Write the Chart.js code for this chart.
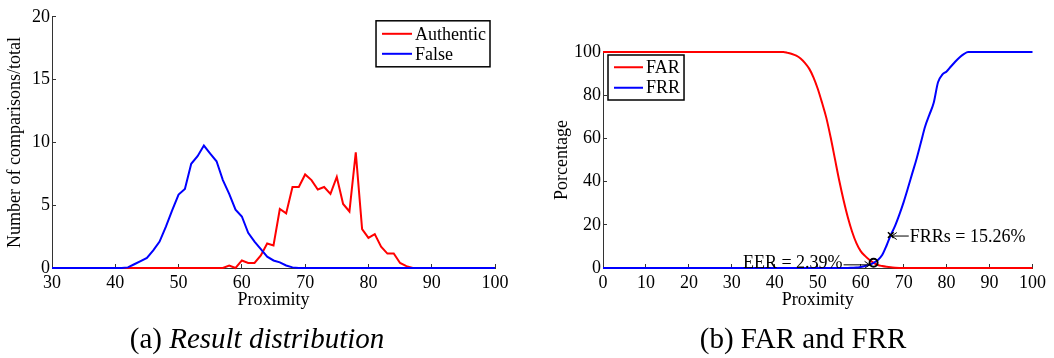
<!DOCTYPE html>
<html>
<head>
<meta charset="utf-8">
<script src="https://cdn.jsdelivr.net/npm/chart.js@4.4.1/dist/chart.umd.min.js"></script>
<style>
  body {
    margin: 0;
    width: 1054px;
    height: 358px;
    background: #fff;
    position: relative;
    overflow: hidden;
    font-family: "Liberation Serif", "DejaVu Serif", serif;
  }
  canvas.plot { position: absolute; left: 0; top: 0; }
  .caption {
    position: absolute;
    top: 321px;
    font-size: 29px;
    line-height: 34px;
    color: #000;
    white-space: nowrap;
    transform: translateX(-50%);
  }
</style>
</head>
<body>
<canvas id="distChart" class="plot" width="1054" height="358"></canvas>
<canvas id="rateChart" class="plot" width="1054" height="358"></canvas>
<div class="caption" style="left:257px">(a) <i>Result distribution</i></div>
<div class="caption" style="left:803px">(b) FAR and FRR</div>

<script>
// ---- (a) score distribution ----
const distProximity = [
  30, 31, 32, 33, 34, 35, 36, 37, 38, 39,
  40, 41, 42, 43, 44, 45, 46, 47, 48, 49,
  50, 51, 52, 53, 54, 55, 56, 57, 58, 59,
  60, 61, 62, 63, 64, 65, 66, 67, 68, 69,
  70, 71, 72, 73, 74, 75, 76, 77, 78, 79,
  80, 81, 82, 83, 84, 85, 86, 87, 88, 89,
  90, 91, 92, 93, 94, 95, 96, 97, 98, 99,
  100,
];
const authentic = [
  0, 0, 0, 0, 0, 0, 0, 0, 0, 0,
  0, 0, 0, 0, 0, 0, 0, 0, 0, 0,
  0, 0, 0, 0, 0, 0, 0, 0, 0.2, 0,
  0.6, 0.4, 0.4, 1.0, 1.95, 1.8, 4.7, 4.35, 6.45, 6.45,
  7.45, 7.0, 6.25, 6.45, 5.9, 7.25, 5.1, 4.5, 9.2, 3.1,
  2.4, 2.7, 1.7, 1.15, 1.15, 0.4, 0.15, 0, 0, 0,
  0, 0, 0, 0, 0, 0, 0, 0, 0, 0,
  0,
];
const impostor = [
  0, 0, 0, 0, 0, 0, 0, 0, 0, 0,
  0, 0, 0.05, 0.3, 0.55, 0.8, 1.4, 2.1, 3.3, 4.6,
  5.85, 6.3, 8.3, 8.9, 9.75, 9.1, 8.5, 7.0, 5.9, 4.65,
  4.1, 2.8, 2.1, 1.5, 0.9, 0.6, 0.45, 0.2, 0.05, 0,
  0, 0, 0, 0, 0, 0, 0, 0, 0, 0,
  0, 0, 0, 0, 0, 0, 0, 0, 0, 0,
  0, 0, 0, 0, 0, 0, 0, 0, 0, 0,
  0,
];
const distXTicks = [30, 40, 50, 60, 70, 80, 90, 100];
const distYTicks = [0, 5, 10, 15, 20];

// ---- (b) error rates ----
const rateProximity = [
  0, 1, 2, 3, 4, 5, 6, 7, 8, 9,
  10, 11, 12, 13, 14, 15, 16, 17, 18, 19,
  20, 21, 22, 23, 24, 25, 26, 27, 28, 29,
  30, 31, 32, 33, 34, 35, 36, 37, 38, 39,
  40, 41, 42, 43, 44, 45, 46, 47, 48, 49,
  50, 51, 52, 53, 54, 55, 56, 57, 58, 59,
  60, 61, 62, 63, 64, 65, 66, 67, 68, 69,
  70, 71, 72, 73, 74, 75, 76, 77, 78, 79,
  80, 81, 82, 83, 84, 85, 86, 87, 88, 89,
  90, 91, 92, 93, 94, 95, 96, 97, 98, 99,
  100,
];
const far = [
  100, 100, 100, 100, 100, 100, 100, 100, 100, 100,
  100, 100, 100, 100, 100, 100, 100, 100, 100, 100,
  100, 100, 100, 100, 100, 100, 100, 100, 100, 100,
  100, 100, 100, 100, 100, 100, 100, 100, 100, 100,
  100, 100, 100, 99.6, 99.1, 98.3, 97, 95, 92.3, 88.3,
  83, 76.5, 69.5, 60.5, 50.5, 40.5, 31.5, 23.5, 16.8, 11.5,
  7.8, 5.6, 3.8, 2.39, 1.4, 0.9, 0.55, 0.3, 0.15, 0.05,
  0, 0, 0, 0, 0, 0, 0, 0, 0, 0,
  0, 0, 0, 0, 0, 0, 0, 0, 0, 0,
  0, 0, 0, 0, 0, 0, 0, 0, 0, 0,
  0,
];
const frr = [
  0, 0, 0, 0, 0, 0, 0, 0, 0, 0,
  0, 0, 0, 0, 0, 0, 0, 0, 0, 0,
  0, 0, 0, 0, 0, 0, 0, 0, 0, 0,
  0, 0, 0, 0, 0, 0, 0, 0, 0, 0,
  0, 0, 0, 0, 0, 0, 0, 0, 0, 0,
  0, 0, 0, 0, 0, 0, 0, 0, 0.1, 0.2,
  0.5, 0.9, 1.5, 2.39, 3.7, 6.0, 10.3, 15.26, 19.5, 24.7,
  30.5, 37, 43.8, 50.5, 58, 65.5, 71, 76.5, 86, 89.5,
  91, 93.3, 95.5, 97.5, 99, 100, 100, 100, 100, 100,
  100, 100, 100, 100, 100, 100, 100, 100, 100, 100,
  100,
];
const rateXTicks = [0, 10, 20, 30, 40, 50, 60, 70, 80, 90, 100];
const rateYTicks = [0, 20, 40, 60, 80, 100];

// marked points: equal error rate and FRR at the chosen threshold
const eerPoint = [63, 2.39];
const frrsPoint = [67, 15.26];

const FONT = "Liberation Serif";
const FONT_SIZE = 18;
const toXY = (xs, ys) => xs.map((x, i) => ({ x: x, y: ys[i] }));

// Matlab-like legend: white box with a thin black frame
const boxLegend = {
  id: "boxLegend",
  afterDraw(chart, args, opts) {
    const ctx = chart.ctx;
    const items = chart.data.datasets.filter((d) => !d.noLegend);
    const area = chart.chartArea;
    ctx.save();
    ctx.font = `${FONT_SIZE}px "${FONT}"`;
    const textW = Math.max(...items.map((d) => ctx.measureText(d.label).width));
    const w = opts.padLeft + opts.sample + opts.gap + textW + opts.padRight;
    const h = items.length * opts.rowHeight + opts.padY * 2;
    const x = opts.align === "right" ? area.right - opts.inset - w : area.left + opts.inset;
    const y = area.top + opts.insetTop;
    ctx.fillStyle = "#fff";
    ctx.fillRect(x, y, w, h);
    ctx.strokeStyle = "#000";
    ctx.lineWidth = 1.5;
    ctx.strokeRect(x, y, w, h);
    items.forEach((d, i) => {
      const cy = y + opts.padY + opts.rowHeight * (i + 0.5);
      ctx.strokeStyle = d.borderColor;
      ctx.lineWidth = 2;
      ctx.beginPath();
      ctx.moveTo(x + opts.padLeft, cy);
      ctx.lineTo(x + opts.padLeft + opts.sample, cy);
      ctx.stroke();
      ctx.fillStyle = "#000";
      ctx.textAlign = "left";
      ctx.textBaseline = "middle";
      ctx.fillText(d.label, x + opts.padLeft + opts.sample + opts.gap, cy + 1);
    });
    ctx.restore();
  },
};

// arrow + text labels anchored to data points
const pointNotes = {
  id: "pointNotes",
  afterDatasetsDraw(chart, args, opts) {
    if (!opts.notes) return;
    const { ctx, scales } = chart;
    ctx.save();
    ctx.font = `${FONT_SIZE}px "${FONT}"`;
    ctx.fillStyle = "#000";
    ctx.strokeStyle = "#000";
    ctx.lineWidth = 1;
    ctx.textBaseline = "middle";
    opts.notes.forEach((n) => {
      const px = scales.x.getPixelForValue(n.at[0]);
      const py = scales.y.getPixelForValue(n.at[1]);
      const dir = n.side === "left" ? -1 : 1;
      const tipX = px + dir * n.gap;
      const tailX = tipX + dir * n.arrow;
      const ay = py + n.dy;
      ctx.beginPath();
      ctx.moveTo(tailX, ay);
      ctx.lineTo(tipX, ay);
      ctx.moveTo(tipX + dir * 5, ay - 3.5);
      ctx.lineTo(tipX, ay);
      ctx.lineTo(tipX + dir * 5, ay + 3.5);
      ctx.stroke();
      ctx.textAlign = n.side === "left" ? "right" : "left";
      ctx.fillText(n.text, tailX + dir * 1, ay + n.textDy);
    });
    ctx.restore();
  },
};

const axis = (min, max, ticks, title, width, height, titlePad, tickPad) => ({
  type: "linear",
  min: min,
  max: max,
  afterBuildTicks: (s) => { s.ticks = ticks.map((v) => ({ value: v })); },
  afterFit: (s) => {
    if (width) s.width = width;
    if (height) s.height = height;
  },
  grid: {
    display: true,
    drawOnChartArea: false,
    drawTicks: true,
    tickLength: -4,
    color: "#333",
    lineWidth: 1,
  },
  border: { display: true, color: "#333", width: 1 },
  ticks: {
    color: "#000",
    padding: tickPad,
    maxRotation: 0,
    autoSkip: false,
    font: { family: FONT, size: FONT_SIZE },
  },
  title: {
    display: true,
    text: title,
    color: "#000",
    padding: { top: titlePad, bottom: 0 },
    font: { family: FONT, size: FONT_SIZE },
  },
});

const baseOptions = (padding, scales, plugins) => ({
  responsive: false,
  animation: false,
  events: [],
  layout: { padding: padding },
  scales: scales,
  plugins: Object.assign({ legend: { display: false }, tooltip: { enabled: false } }, plugins),
});

new Chart(document.getElementById("distChart"), {
  type: "line",
  data: {
    datasets: [
      {
        label: "Authentic",
        data: toXY(distProximity, authentic),
        borderColor: "#ff0000",
        borderWidth: 2,
        pointRadius: 0,
        order: 2,
        clip: 3,
      },
      {
        label: "False",
        data: toXY(distProximity, impostor),
        borderColor: "#0000ff",
        borderWidth: 2,
        pointRadius: 0,
        order: 1,
        clip: 3,
      },
    ],
  },
  options: baseOptions(
    { left: 0, right: 559, top: 15, bottom: 47 },
    {
      x: axis(30, 100, distXTicks, "Proximity", null, 43, 0, 8),
      y: axis(0, 20, distYTicks, "Number of comparisons/total", 52, null, 4, 6),
    },
    { boxLegend: { align: "right", inset: 5, insetTop: 4, padLeft: 6, sample: 30, gap: 3, padRight: 4, rowHeight: 20, padY: 3 } }
  ),
  plugins: [boxLegend],
});

new Chart(document.getElementById("rateChart"), {
  type: "line",
  data: {
    datasets: [
      {
        label: "FAR",
        data: toXY(rateProximity, far),
        borderColor: "#ff0000",
        borderWidth: 2,
        pointRadius: 0,
        cubicInterpolationMode: "monotone",
        order: 3,
        clip: 3,
      },
      {
        label: "FRR",
        data: toXY(rateProximity, frr),
        borderColor: "#0000ff",
        borderWidth: 2,
        pointRadius: 0,
        cubicInterpolationMode: "monotone",
        order: 2,
        clip: 3,
      },
      {
        label: "EER",
        noLegend: true,
        data: [{ x: eerPoint[0], y: eerPoint[1] }],
        showLine: false,
        pointStyle: "circle",
        pointRadius: 4,
        borderColor: "#000",
        backgroundColor: "rgba(0,0,0,0)",
        borderWidth: 2,
        order: 1,
      },
      {
        label: "FRRs",
        noLegend: true,
        data: [{ x: frrsPoint[0], y: frrsPoint[1] }],
        showLine: false,
        pointStyle: "crossRot",
        pointRadius: 4,
        borderColor: "#000",
        borderWidth: 1.5,
        order: 1,
      },
    ],
  },
  options: baseOptions(
    { left: 551, right: 16, top: 52, bottom: 47 },
    {
      x: axis(0, 100, rateXTicks, "Proximity", null, 43, 0, 8),
      y: axis(0, 100, rateYTicks, "Porcentage", 52, null, 0, 6),
    },
    {
      boxLegend: { align: "left", inset: 5, insetTop: 3, padLeft: 6, sample: 29, gap: 3, padRight: 4, rowHeight: 20.5, padY: 2 },
      pointNotes: {
        notes: [
          { at: eerPoint, text: `EER = ${eerPoint[1]}%`, side: "left", gap: 4, arrow: 26, dy: 2, textDy: -2 },
          { at: frrsPoint, text: `FRRs = ${frrsPoint[1]}%`, side: "right", gap: 1, arrow: 17, dy: 1, textDy: 1 },
        ],
      },
    }
  ),
  plugins: [boxLegend, pointNotes],
});
</script>
</body>
</html>
